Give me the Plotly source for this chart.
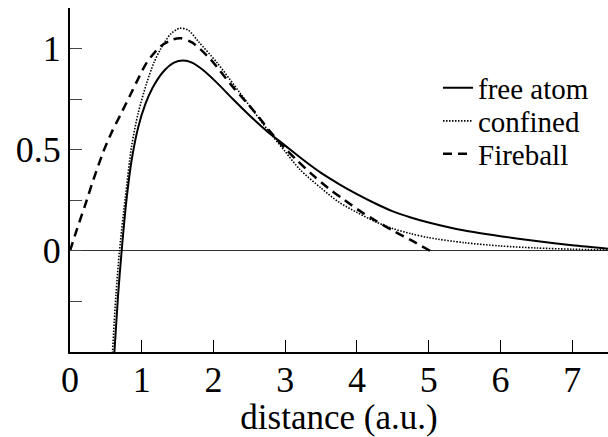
import plotly.graph_objects as go

# free atom (solid)
free_x = [0.61, 0.67, 0.72, 0.79, 0.86, 0.95, 1.05, 1.15, 1.3, 1.45, 1.58, 1.7, 1.85, 2.05,
          2.27, 2.5, 2.75, 3.0, 3.25, 3.5, 3.75, 4.0, 4.25, 4.5, 4.75, 5.0, 5.5, 6.0, 6.5, 7.0, 7.5]
free_y = [-0.55, -0.22, 0.0, 0.26, 0.45, 0.61, 0.725, 0.805, 0.885, 0.93, 0.94, 0.93, 0.895, 0.83,
          0.75, 0.67, 0.59, 0.52, 0.45, 0.385, 0.33, 0.28, 0.235, 0.195, 0.165, 0.14, 0.10, 0.072, 0.048, 0.027, 0.01]

# confined (dotted)
conf_x = [0.585, 0.64, 0.69, 0.77, 0.86, 0.95, 1.07, 1.17, 1.26, 1.4, 1.53, 1.65, 1.8, 2.05,
          2.37, 2.75, 3.0, 3.21, 3.5, 3.75, 4.0, 4.25, 4.5, 4.75, 5.0, 5.5, 6.0, 6.5, 7.0, 7.5]
conf_y = [-0.55, -0.22, 0.0, 0.26, 0.52, 0.68, 0.83, 0.93, 0.995, 1.07, 1.10, 1.09, 1.03, 0.93,
          0.78, 0.6, 0.49, 0.40, 0.31, 0.24, 0.19, 0.145, 0.11, 0.085, 0.065, 0.04, 0.024, 0.014, 0.008, 0.004]

# Fireball (dashed)
fb_x = [0.0, 0.1, 0.21, 0.325, 0.465, 0.58, 0.7, 0.84, 0.95, 1.07, 1.26, 1.44, 1.55, 1.7, 1.95,
        2.09, 2.27, 2.47, 2.6, 2.79, 3.0, 3.17, 3.35, 3.6, 3.81, 4.05, 4.28, 4.5, 4.74, 5.02]
fb_y = [0.0, 0.11, 0.225, 0.35, 0.49, 0.585, 0.67, 0.77, 0.85, 0.93, 1.01, 1.045, 1.05, 1.03, 0.95,
        0.89, 0.81, 0.73, 0.675, 0.59, 0.505, 0.445, 0.385, 0.31, 0.255, 0.195, 0.145, 0.10, 0.055, 0.0]

x_ticks = [0, 1, 2, 3, 4, 5, 6, 7]
y_ticks = [-0.25, 0, 0.25, 0.5, 0.75, 1]
y_labels = ["", "0", "", "0.5", "", "1"]

FONT = "Liberation Serif, Times New Roman, serif"

fig = go.Figure()
fig.add_trace(go.Scatter(x=free_x, y=free_y, mode="lines", name="free atom", legend="legend",
                         line=dict(color="black", width=2, shape="spline", smoothing=0.8)))
fig.add_trace(go.Scatter(x=conf_x, y=conf_y, mode="lines", name="confined", legend="legend2",
                         line=dict(color="black", width=1.6, dash="1.5px,1.5px", shape="spline", smoothing=0.8)))
fig.add_trace(go.Scatter(x=fb_x, y=fb_y, mode="lines", name="Fireball", legend="legend3",
                         line=dict(color="black", width=2.5, dash="9px,6px", shape="spline", smoothing=0.8)))

def leg(py):
    return dict(x=(438 - 70) / 538, y=(352 - py) / 344, xanchor="left", yanchor="middle",
                font=dict(size=29, family=FONT), bgcolor="rgba(0,0,0,0)", itemwidth=30,
                borderwidth=0)

fig.update_layout(
    width=608, height=437,
    margin=dict(l=70, r=0, t=8, b=85),
    paper_bgcolor="white", plot_bgcolor="white",
    font=dict(family=FONT, color="black", size=36),
    showlegend=True,
    legend=leg(88), legend2=leg(121), legend3=leg(154),
)
fig.update_xaxes(range=[0, 7.5], tickvals=x_ticks, ticks="inside", ticklen=12, tickwidth=1,
                 tickcolor="black", showline=True, linecolor="black", linewidth=2,
                 showgrid=False, zeroline=False, tickfont=dict(size=36), ticklabelstandoff=-5,
                 title=dict(text="distance (a.u.)", font=dict(size=35), standoff=0))
fig.update_yaxes(range=[-0.5, 1.2], tickvals=y_ticks, ticktext=y_labels, ticks="inside",
                 ticklen=12, tickwidth=1, tickcolor="#444", showline=True, linecolor="black",
                 linewidth=2, showgrid=False, zeroline=True, zerolinecolor="#333",
                 zerolinewidth=1, tickfont=dict(size=36))

fig.write_html("out.html")
